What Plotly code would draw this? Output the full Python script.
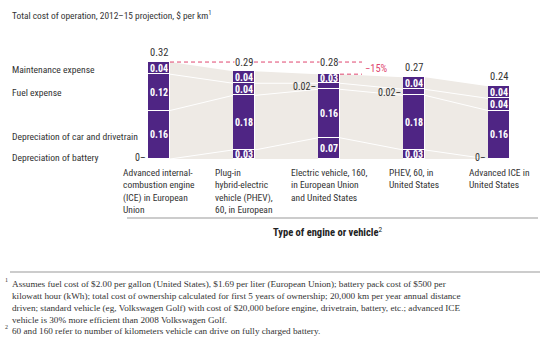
import plotly.graph_objects as go

# ---- data ----
categories = [
    "Advanced internal-<br>combustion engine<br>(ICE) in European<br>Union",
    "Plug-in<br>hybrid-electric<br>vehicle (PHEV),<br>60, in European",
    "Electric vehicle, 160,<br>in European Union<br>and United States",
    "PHEV, 60, in<br>United States",
    "Advanced ICE in<br>United States",
]
series_names = ["Depreciation of battery", "Depreciation of car and drivetrain",
                "Fuel expense", "Maintenance expense"]
battery = [0.00, 0.03, 0.07, 0.03, 0.00]
car = [0.16, 0.18, 0.16, 0.18, 0.16]
fuel = [0.12, 0.04, 0.02, 0.02, 0.04]
maint = [0.04, 0.04, 0.03, 0.04, 0.04]
totals = [0.32, 0.29, 0.28, 0.27, 0.24]
reduction_label = "\u221215%"

# ---- layout constants ----
W, H = 545, 338
PURPLE = "#4f2584"
BEIGE = "#eeeae5"
RED = "#e0476f"
TXT = "#333333"
NARROW = "Liberation Sans Narrow, Roboto Condensed, Arial Narrow, Roboto, sans-serif"
SERIF = "Liberation Serif, DejaVu Serif, serif"

xs = list(range(len(categories)))
bw = 22 / 85.0
x_px0, x_scale = 159, 85.0
y_px0, y_scale = 159, 303.0
xr = [-x_px0 / x_scale, (W - x_px0) / x_scale]
yr = [-(H - y_px0) / y_scale, y_px0 / y_scale]

def px(x):
    return x / W

def py(y):
    return 1 - y / H

series = [battery, car, fuel, maint]
cum = []
run = [0.0] * len(xs)
for s in series:
    run = [r + v for r, v in zip(run, s)]
    cum.append(run[:])

fig = go.Figure()

# beige connecting bands between bars
bx, byy = [], []
for i in range(len(xs) - 1):
    a = xs[i] + bw / 2
    b = xs[i + 1] - bw / 2
    bx += [a, a, b, b, a, None]
    byy += [0, totals[i], totals[i + 1], 0, 0, None]
fig.add_trace(go.Scatter(x=bx, y=byy, fill="toself", fillcolor=BEIGE, mode="lines",
                         line=dict(width=0), hoverinfo="skip", showlegend=False))

# white connector lines at segment boundaries
for k in range(len(series) - 1):
    lx, ly = [], []
    for i in range(len(xs) - 1):
        lx += [xs[i] + bw / 2, xs[i + 1] - bw / 2, None]
        ly += [cum[k][i], cum[k][i + 1], None]
    fig.add_trace(go.Scatter(x=lx, y=ly, mode="lines", line=dict(color="white", width=1),
                             hoverinfo="skip", showlegend=False))

# stacked bars
for name, s in zip(series_names, series):
    fig.add_trace(go.Bar(x=xs, y=s, name=name, width=bw, marker=dict(color=PURPLE,
                         line=dict(color="white", width=1)), showlegend=False))

# dashed reference lines
x_end = (362 - x_px0) / x_scale
fig.add_trace(go.Scatter(x=[xs[0] + bw / 2, x_end], y=[totals[0], totals[0]], mode="lines",
                         line=dict(color=RED, width=1, dash="4px,3px"), hoverinfo="skip",
                         showlegend=False))
fig.add_trace(go.Scatter(x=[xs[2] + bw / 2, x_end], y=[totals[2], totals[2]], mode="lines",
                         line=dict(color=RED, width=1, dash="4px,3px"), hoverinfo="skip",
                         showlegend=False))

ann = []
# segment value labels
for k, s in enumerate(series):
    for i, v in enumerate(s):
        base = cum[k][i] - v
        if v >= 0.03:
            ann.append(dict(x=xs[i], y=base + v / 2, xref="x", yref="y",
                            text=f"<b>{v:.2f}</b>",
                            showarrow=False, font=dict(family=NARROW, size=10, color="white")))
        elif k in (0, 2):
            lab = "0" if v == 0 else f"{v:.2f}"
            ann.append(dict(x=xs[i] - bw / 2, y=base + v / 2 + (0.004 if v == 0 else 0),
                            xref="x", yref="y", text=lab + "\u2013", showarrow=False,
                            xanchor="right", font=dict(family=NARROW, size=10, color=TXT)))
# totals
for i, t in enumerate(totals):
    if i in (1, 2):
        yv, shift = totals[0], 0
    else:
        yv, shift = t, 10
    a = dict(x=xs[i], y=yv, xref="x", yref="y", text=f"{t:.2f}", showarrow=False,
             yshift=shift, borderpad=0, font=dict(family=NARROW, size=10.5, color=TXT))
    if i in (1, 2):
        a["bgcolor"] = "white"
    ann.append(a)
ann.append(dict(x=x_end, y=(totals[0] + totals[2]) / 2, xref="x", yref="y",
                text=reduction_label, showarrow=False, xanchor="left", xshift=1,
                font=dict(family=NARROW, size=10.5, color=RED)))

# category labels
for i, c in enumerate(categories):
    ann.append(dict(x=xs[i], y=py(165), xref="x", yref="paper", text=c, showarrow=False,
                    xanchor="center", yanchor="top", align="left",
                    font=dict(family=NARROW, size=9.5, color=TXT)))

# row labels
row_y = {"Maintenance expense": 69, "Fuel expense": 93,
         "Depreciation of car and drivetrain": 136, "Depreciation of battery": 157}
for name in series_names:
    ann.append(dict(x=px(10), y=py(row_y[name]), xref="paper", yref="paper", text=name,
                    showarrow=False, xanchor="left", yanchor="middle",
                    font=dict(family=NARROW, size=9.6, color=TXT)))

# title
ann.append(dict(x=px(10), y=py(15), xref="paper", yref="paper",
                text="Total cost of operation, 2012\u201315 projection, $ per km<sup>1</sup>",
                showarrow=False, xanchor="left", yanchor="middle",
                font=dict(family=NARROW, size=9.4, color=TXT)))

# axis title
ann.append(dict(x=px(328), y=py(232), xref="paper", yref="paper",
                text="<b>Type of engine or vehicle</b><sup>2</sup>", showarrow=False,
                xanchor="center", yanchor="middle",
                font=dict(family=NARROW, size=10.5, color="#222222")))

# footnotes
fn1 = ("Assumes fuel cost of $2.00 per gallon (United States), $1.69 per liter (European Union); battery pack cost of $500 per<br>"
       "kilowatt hour (kWh); total cost of ownership calculated for first 5 years of ownership; 20,000 km per year annual distance<br>"
       "driven; standard vehicle (eg, Volkswagen Golf) with cost of $20,000 before engine, drivetrain, battery, etc.; advanced ICE<br>"
       "vehicle is 30% more efficient than 2008 Volkswagen Golf.")
fn2 = "60 and 160 refer to number of kilometers vehicle can drive on fully charged battery."
ann.append(dict(x=px(10), y=py(277), xref="paper", yref="paper", text=fn1, showarrow=False,
                xanchor="left", yanchor="top", align="left",
                font=dict(family=SERIF, size=9.2, color=TXT)))
ann.append(dict(x=px(10), y=py(323.5), xref="paper", yref="paper", text=fn2, showarrow=False,
                xanchor="left", yanchor="top", align="left",
                font=dict(family=SERIF, size=9.2, color=TXT)))
ann.append(dict(x=px(10), y=py(280), xref="paper", yref="paper", text="1", showarrow=False,
                xanchor="right", yanchor="middle", font=dict(family=SERIF, size=6, color=TXT)))
ann.append(dict(x=px(10), y=py(326.5), xref="paper", yref="paper", text="2", showarrow=False,
                xanchor="right", yanchor="middle", font=dict(family=SERIF, size=6, color=TXT)))

shapes = [
    dict(type="line", xref="paper", yref="paper", x0=px(127), x1=px(538), y0=py(218), y1=py(218),
         line=dict(color="#999999", width=1)),
    dict(type="line", xref="paper", yref="paper", x0=px(10), x1=px(540), y0=py(272), y1=py(272),
         line=dict(color="#999999", width=1)),
]

fig.update_layout(
    width=W, height=H, margin=dict(l=0, r=0, t=0, b=0),
    paper_bgcolor="white", plot_bgcolor="white", barmode="stack", bargap=0,
    xaxis=dict(range=xr, visible=False, fixedrange=True),
    yaxis=dict(range=yr, visible=False, fixedrange=True),
    annotations=ann, shapes=shapes, showlegend=False,
)

fig.write_html("out.html")
